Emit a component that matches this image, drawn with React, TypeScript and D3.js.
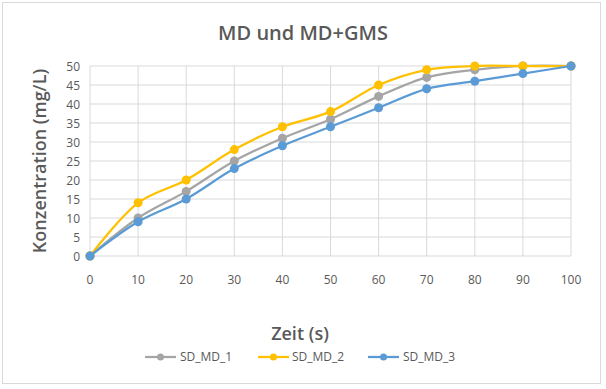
import React from "react";
import * as d3 from "d3";

const xValues = [0, 10, 20, 30, 40, 50, 60, 70, 80, 90, 100];
const sdMd1 = [0, 10, 17, 25, 31, 36, 42, 47, 49, 50, 50];
const sdMd2 = [0, 14, 20, 28, 34, 38, 45, 49, 50, 50, 50];
const sdMd3 = [0, 9, 15, 23, 29, 34, 39, 44, 46, 48, 50];
const seriesNames = ["SD_MD_1", "SD_MD_2", "SD_MD_3"];
const seriesColors = ["#A5A5A5", "#FFC000", "#5B9BD5"];
const yTicks = [0, 5, 10, 15, 20, 25, 30, 35, 40, 45, 50];
const xTicks = [0, 10, 20, 30, 40, 50, 60, 70, 80, 90, 100];

const W = 606;
const H = 389;
const font = "'Open Sans', 'Liberation Sans', sans-serif";
const textColor = "#595959";

export default function App() {
  const x = d3.scaleLinear().domain([0, 100]).range([90, 571]);
  const y = d3.scaleLinear().domain([0, 50]).range([256, 66]);
  const series = [sdMd1, sdMd2, sdMd3];
  const line = d3
    .line<number>()
    .x((_, i) => x(xValues[i]))
    .y((d) => y(d))
    .curve(d3.curveCatmullRom.alpha(0.5));

  const legendItems = [
    { x0: 145, tx: 180 },
    { x0: 258, tx: 292 },
    { x0: 368, tx: 403 },
  ];

  return (
    <svg
      width={W}
      height={H}
      style={{ position: "absolute", left: 0, top: 0, background: "#fff" }}
    >
      <rect x={2.5} y={2.5} width={598} height={381} fill="#fff" stroke="#D9D9D9" strokeWidth={1} />
      <text x={303} y={40} textAnchor="middle" fontFamily={font} fontSize={20} fontWeight={600} fill={textColor}>
        MD und MD+GMS
      </text>
      {yTicks.map((t) => (
        <line key={"gy" + t} x1={x(0)} x2={x(100)} y1={y(t)} y2={y(t)} stroke="#D9D9D9" strokeWidth={1} />
      ))}
      {xTicks.map((t) => (
        <line key={"gx" + t} x1={x(t)} x2={x(t)} y1={y(0)} y2={y(50)} stroke="#D9D9D9" strokeWidth={1} />
      ))}
      {yTicks.map((t) => (
        <text key={"ty" + t} x={80} y={y(t) + 4.5} textAnchor="end" fontFamily={font} fontSize={12} fill={textColor}>
          {t}
        </text>
      ))}
      {xTicks.map((t) => (
        <text key={"tx" + t} x={x(t)} y={284} textAnchor="middle" fontFamily={font} fontSize={12} fill={textColor}>
          {t}
        </text>
      ))}
      <text
        transform={`translate(46,161) rotate(-90)`}
        textAnchor="middle"
        fontFamily={font}
        fontSize={18}
        fontWeight={600}
        fill={textColor}
      >
        Konzentration (mg/L)
      </text>
      <text x={300} y={340} textAnchor="middle" fontFamily={font} fontSize={18} fontWeight={600} fill={textColor}>
        Zeit (s)
      </text>
      {series.map((s, si) => (
        <g key={"s" + si}>
          <path d={line(s) || ""} fill="none" stroke={seriesColors[si]} strokeWidth={2.25} />
          {s.map((v, i) => (
            <circle key={i} cx={x(xValues[i])} cy={y(v)} r={4.5} fill={seriesColors[si]} />
          ))}
        </g>
      ))}
      {legendItems.map((li, i) => (
        <g key={"l" + i}>
          <line x1={li.x0} x2={li.x0 + 31} y1={357} y2={357} stroke={seriesColors[i]} strokeWidth={2.25} />
          <circle cx={li.x0 + 15.5} cy={357} r={3.5} fill={seriesColors[i]} />
          <text x={li.tx} y={361} fontFamily={font} fontSize={12} fill={textColor}>
            {seriesNames[i]}
          </text>
        </g>
      ))}
    </svg>
  );
}
